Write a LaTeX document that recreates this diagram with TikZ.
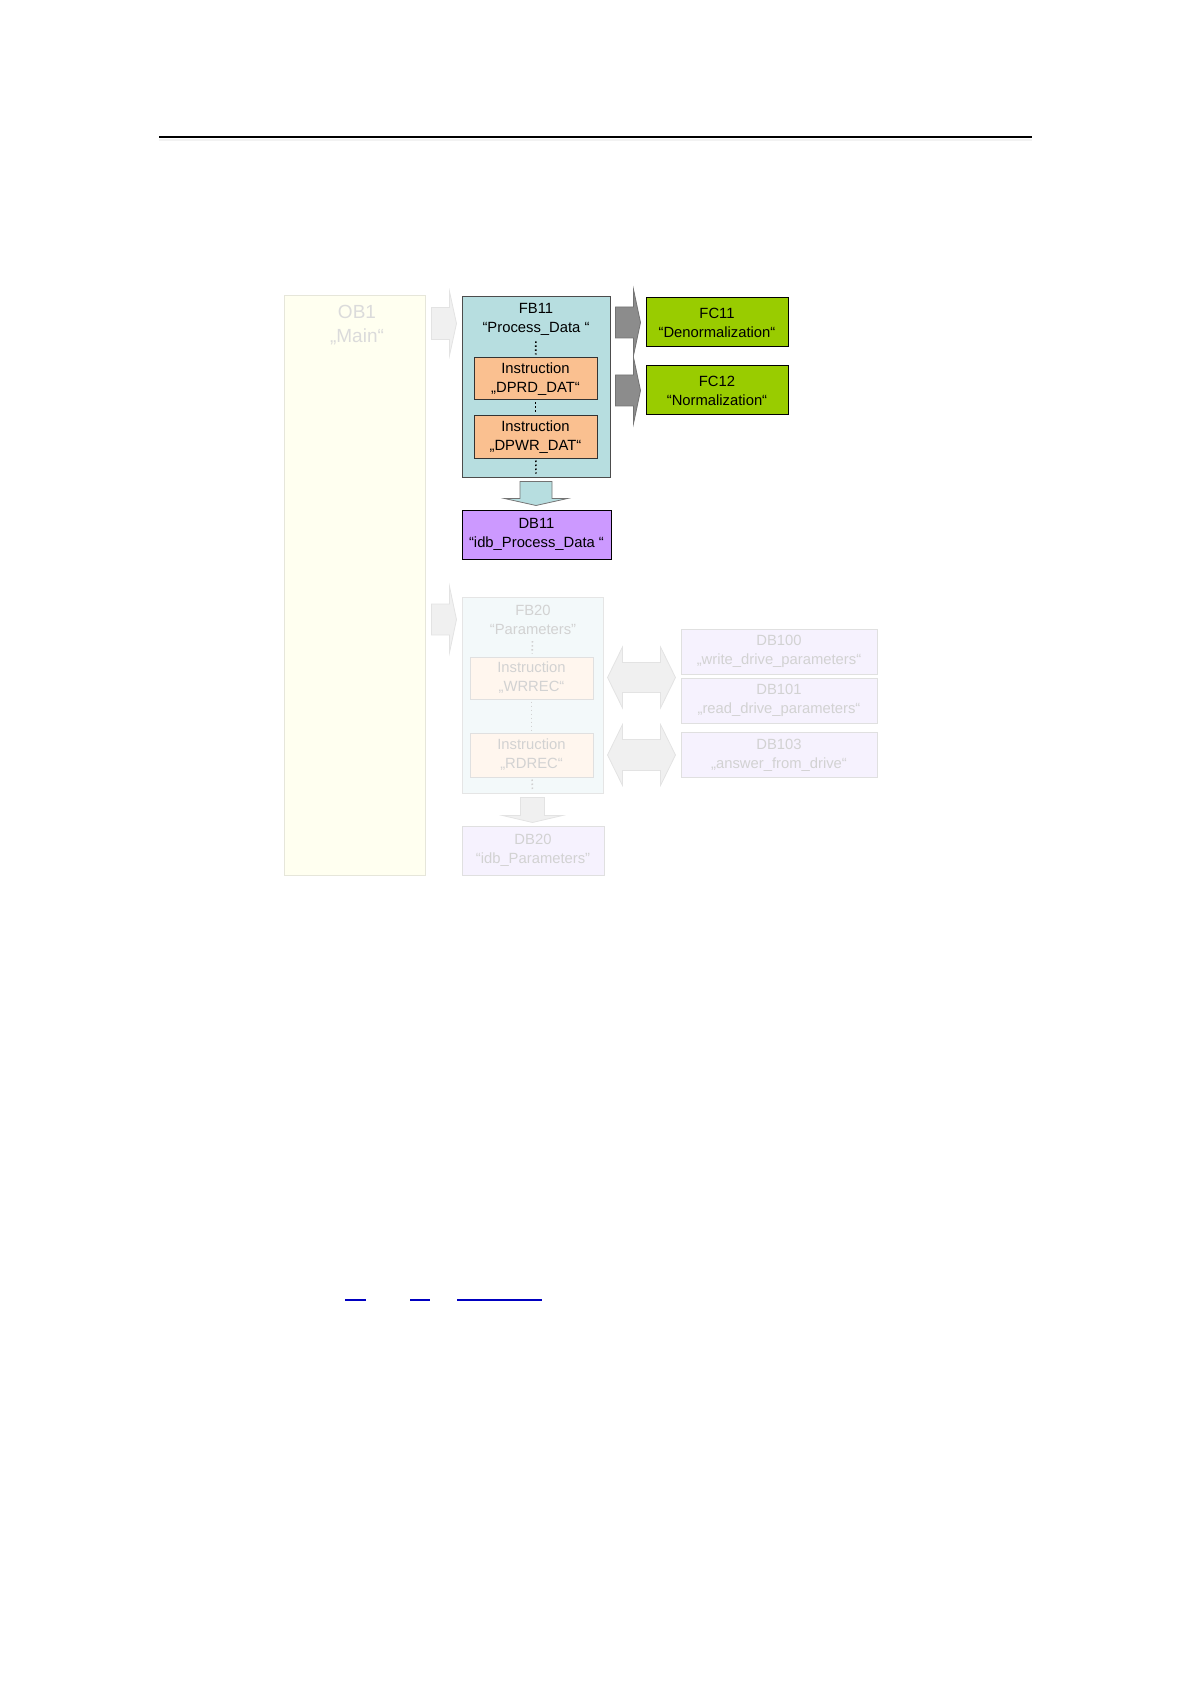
\documentclass[tikz,border=0pt]{standalone}
\usepackage{fontspec}
\setmainfont{Liberation Sans}
\usepackage{xcolor}
\usepackage{tikz}
\usetikzlibrary{calc}
\definecolor{fbblue}{HTML}{B7DEE0}
\definecolor{instrorange}{HTML}{FAC090}
\definecolor{fcgreen}{HTML}{99CC00}
\definecolor{dbviolet}{HTML}{CC99FF}
\definecolor{arrowgray}{HTML}{8C8C8C}
\definecolor{obfill}{HTML}{FFFFF0}
\definecolor{obline}{HTML}{E6E6DA}
\definecolor{fadetext}{HTML}{D2D2D2}
\definecolor{fadeblue}{HTML}{F3F9FA}
\definecolor{fadeorange}{HTML}{FFF6EE}
\definecolor{fadeviolet}{HTML}{F6F2FE}
\definecolor{linkblue}{HTML}{0000C0}
\newcommand{\boxfont}{\fontsize{7.4}{9.5}\selectfont}
\newcommand{\harrow}[5]{%
  \filldraw[#1] let \p1=(#2), \p2=(#3) in
    (\x1,\y1+#4) -- (\x2-3.5pt,\y1+#4) -- (\x2-3.5pt,\y1+#5) -- (\x2,\y1)
    -- (\x2-3.5pt,\y1-#5) -- (\x2-3.5pt,\y1-#4) -- (\x1,\y1-#4) -- cycle;}
\newcommand{\varrow}[5]{%
  \filldraw[#1] let \p1=(#2), \p2=(#3) in
    (\x1-#4,\y1) -- (\x1-#4,\y2+3.5pt) -- (\x1-#5,\y2+3.5pt) -- (\x1,\y2)
    -- (\x1+#5,\y2+3.5pt) -- (\x1+#4,\y2+3.5pt) -- (\x1+#4,\y1) -- cycle;}
\newcommand{\darrow}[5]{%
  \filldraw[#1] let \p1=(#2), \p2=(#3) in
    (\x1,\y1) -- (\x1+7.5pt,\y1+#5) -- (\x1+7.5pt,\y1+#4) -- (\x2-7.5pt,\y1+#4)
    -- (\x2-7.5pt,\y1+#5) -- (\x2,\y1) -- (\x2-7.5pt,\y1-#5) -- (\x2-7.5pt,\y1-#4)
    -- (\x1+7.5pt,\y1-#4) -- (\x1+7.5pt,\y1-#5) -- cycle;}

\begin{document}
\begin{tikzpicture}[x=0.5pt,y=-0.5pt]

                \tikzstyle{block}  = [rectangle, draw, line width=0.5pt, inner sep=0pt, align=center, font=\boxfont]
                \tikzstyle{title}  = [inner sep=0pt, align=center, font=\boxfont]
                \tikzstyle{fbbox}  = [block, fill=fbblue, draw=black!70]
                \tikzstyle{instr}  = [block, fill=instrorange, draw=black!80, minimum width=61.5pt, minimum height=21pt]
                \tikzstyle{fcbox}  = [block, fill=fcgreen, draw=black, minimum width=71pt, minimum height=24.5pt]
                \tikzstyle{dbbox}  = [block, fill=dbviolet, draw=black, minimum width=74.5pt, minimum height=24.5pt]
                \tikzstyle{fade}   = [block, draw=black!12, text=fadetext]
                \tikzstyle{dots}   = [line width=0.8pt, dash pattern=on 0.75pt off 1.25pt]
                \tikzstyle{grayarrow}  = [fill=arrowgray, draw=black!55, line width=0.4pt]
                \tikzstyle{lightarrow} = [fill=black!6, draw=black!11, line width=0.4pt]

                \useasboundingbox (0,0) rectangle (1191,1684);

                \draw [line width=0.7pt] (159,137) -- (1032,137);
                \draw [line width=0.7pt, black!5] (159,140) -- (1032,140);

                \node [block, fill=obfill, draw=obline, minimum width=70.5pt, minimum height=289.5pt] (ob1) at (354.5,585.5) {};
                \node [title, text=black!14, font=\fontsize{9.5}{12}\selectfont] (ob1t) at (357,325) {OB1\\„Main“};

                \node [fbbox, minimum width=74pt, minimum height=90pt] (fb11) at (536,387) {};
                \node [title] (fb11t) at (536,319) {FB11\\“Process\_Data “};
                \node [instr] (dprd) at (535.5,379) {Instruction\\„DPRD\_DAT“};
                \node [instr] (dpwr) at (535.5,437) {Instruction\\„DPWR\_DAT“};
                \node [dbbox] (db11) at (536.5,534.5) {DB11\\“idb\_Process\_Data “};

                \draw [dots, shorten <=3pt, shorten >=1.5pt] (fb11t) -- (dprd);
                \draw [dots, shorten <=1pt, shorten >=1pt] (dprd) -- (dpwr);
                \draw [dots, shorten <=1pt, shorten >=2pt] (dpwr) -- (fb11.south);

                \foreach \k/\txt/\y in {11/Denormalization/322.5, 12/Normalization/390.5}
                {
                        \node [fcbox] (fc\k) at (717,\y) {FC\k\\“\txt“};
                        \coordinate (fs\k) at ($(fb11.east |- fc\k)+(5,0)$);
                        \coordinate (fe\k) at ($(fc\k.west)+(-5,0)$);
                        \harrow{grayarrow}{fs\k}{fe\k}{7.75pt}{16.5pt}
                }

                \coordinate (d1s) at ($(fb11.south)+(0,4)$);
                \coordinate (d1e) at ($(db11.north)+(0,-4)$);
                \varrow{fill=fbblue, draw=black!55, line width=0.4pt}{d1s}{d1e}{8pt}{15.75pt}

                \node [fade, fill=fadeblue, draw=black!10, minimum width=70.5pt, minimum height=98pt] (fb20) at (532.5,695) {};
                \node [title, text=fadetext] (fb20t) at (533,620) {FB20\\“Parameters”};
                \node [fade, fill=fadeorange, minimum width=61.5pt, minimum height=21pt] (wrrec) at (531.5,678) {Instruction\\„WRREC“};
                \node [fade, fill=fadeorange, minimum width=61.5pt, minimum height=22pt] (rdrec) at (531.5,755) {Instruction\\„RDREC“};
                \node [fade, fill=fadeviolet, minimum width=71pt, minimum height=24.5pt] (db20) at (533,850.5) {DB20\\“idb\_Parameters”};

                \draw [dots, black!18, shorten <=3pt, shorten >=1.5pt] (fb20t) -- (wrrec);
                \draw [dots, black!18, shorten <=1pt, shorten >=1pt] (wrrec) -- (rdrec);
                \draw [dots, black!18, shorten <=1pt, shorten >=2pt] (rdrec) -- (fb20.south);

                \foreach \k/\txt/\y in {100/write\_drive\_parameters/651.5, 101/read\_drive\_parameters/700.5, 103/answer\_from\_drive/755}
                {
                        \node [fade, fill=fadeviolet, minimum width=98pt, minimum height=22.5pt] (db\k) at (779,\y) {DB\k\\„\txt“};
                }

                \coordinate (o1e) at ($(fb11.north west)+(-5,27)$);
                \coordinate (o1s) at ($(ob1.east |- o1e)+(6,0)$);
                \harrow{lightarrow}{o1s}{o1e}{8pt}{16pt}

                \coordinate (o2e) at ($(fb20.north west)+(-5,23)$);
                \coordinate (o2s) at ($(ob1.east |- o2e)+(6,0)$);
                \harrow{lightarrow}{o2s}{o2e}{7.75pt}{16.5pt}

                \coordinate (d2s) at ($(fb20.south)+(0,4)$);
                \coordinate (d2e) at ($(db20.north)+(0,-3)$);
                \varrow{lightarrow}{d2s}{d2e}{6pt}{15pt}

                \coordinate (w1s) at ($(fb20.east |- db101.north)+(4,0)$);
                \coordinate (w1e) at ($(db101.north west)+(-5,0)$);
                \darrow{lightarrow}{w1s}{w1e}{7.5pt}{15.25pt}

                \coordinate (w2s) at ($(fb20.east |- db103)+(4,0)$);
                \coordinate (w2e) at ($(db103.west)+(-5,0)$);
                \darrow{lightarrow}{w2s}{w2e}{7.75pt}{15.25pt}

                \foreach \a/\b/\w in {345/366/1pt, 410/430/1pt, 457/542/0.55pt}
                {
                        \draw [linkblue, line width=\w] (\a,1300) -- (\b,1300);
                }

\end{tikzpicture}
\end{document}
